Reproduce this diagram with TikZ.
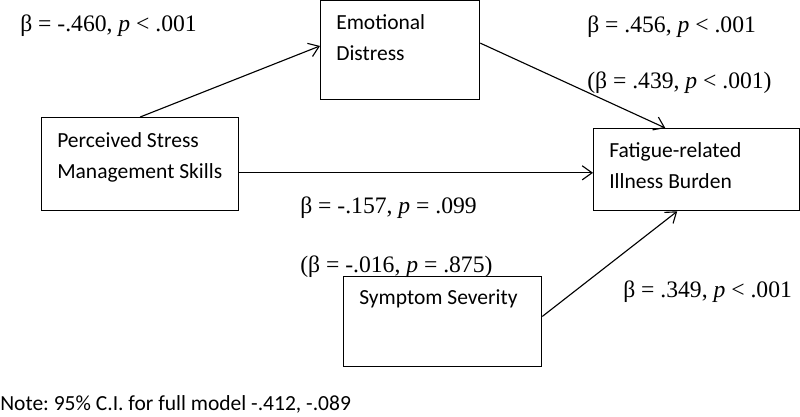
\documentclass[tikz,border=0pt]{standalone}
\usepackage{fontspec}
\setmainfont{Liberation Serif}
\newfontfamily\boxfont{Carlito}
\usetikzlibrary{arrows.meta}
\frenchspacing

\tikzset{
    box/.style={draw, line width=0.9pt, anchor=north west, inner sep=0pt},
    boxtext/.style={anchor=north west, inner sep=0pt, align=left,
        font=\boxfont\fontsize{15.3pt}{22pt}\selectfont},
    coef/.style={anchor=base west, inner sep=0pt,
        font=\fontsize{16.8pt}{20pt}\selectfont},
    link/.style={line width=0.8pt, -{Straight Barb[length=7pt,width=10pt]}}
}

\begin{document}
\begin{tikzpicture}[x=0.025cm, y=-0.025cm]
            \useasboundingbox (0,0) rectangle (800,416);

            % Define the boxes
            \node[box, minimum width=3.975cm, minimum height=2.475cm] (ed) at (320,0) {};
            \node[box, minimum width=4.925cm, minimum height=2.325cm] (psm) at (41,117) {};
            \node[box, minimum width=5.15cm, minimum height=2.05cm] (fib) at (593,128) {};
            \node[box, minimum width=4.95cm, minimum height=2.25cm] (ss) at (343,276) {};

            % Box texts
            \node[boxtext] (edtext) at ([shift={(16,14)}]ed.north west) {Emotional\\Distress};
            \node[boxtext] (psmtext) at ([shift={(16,15)}]psm.north west) {Perceived Stress\\Management Skills};
            \node[boxtext] (fibtext) at ([shift={(16,14)}]fib.north west) {Fatigue-related\\Illness Burden};
            \node[boxtext] (sstext) at ([shift={(16,13)}]ss.north west) {Symptom Severity};

            % Define the paths
            \draw[link] (psm.north) -- (ed.177);
            \draw[link] (ed.5) -- (fib.127);
            \draw[link] (psm.-5.5) -- (psm.-5.5 -| fib.west);
            \draw[link] (ss.3) -- (fib.245);

            % Label the paths
            \node[coef] (a) at (20,31) {β = -.460, \textit{p} < .001};
            \node[coef] (b) at (587,32) {β = .456, \textit{p} < .001};
            \node[coef] (bb) at (587,88) {(β = .439, \textit{p} < .001)};
            \node[coef] (c) at (300,213) {β = -.157, \textit{p} = .099};
            \node[coef] (cc) at (300,272) {(β = -.016, \textit{p} = .875)};
            \node[coef] (d) at (623,297) {β = .349, \textit{p} < .001};

            % Note
            \node[coef, font=\boxfont\fontsize{15.3pt}{20pt}\selectfont] (note) at (0,410) {Note: 95\% C.I. for full model -.412, -.089};

        \end{tikzpicture}
\end{document}
